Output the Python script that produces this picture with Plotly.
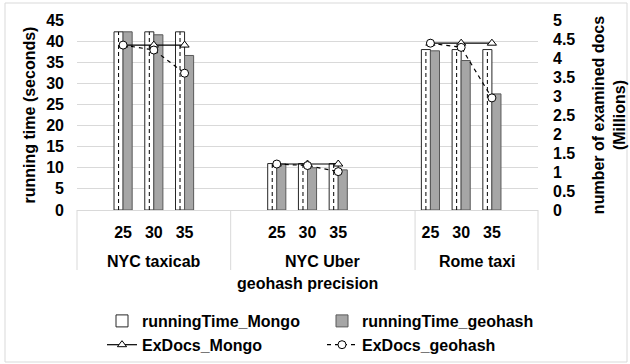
import plotly.graph_objects as go

# ---------------- data ----------------
groups = ["NYC taxicab", "NYC Uber", "Rome taxi"]
precisions = ["25", "30", "35"]
running_time_mongo = [[42.2, 42.2, 42.2], [11.0, 11.0, 11.0], [38.0, 38.0, 38.0]]
running_time_geohash = [[42.2, 41.5, 36.6], [10.9, 10.0, 9.5], [37.7, 35.4, 27.5]]
exdocs_mongo = [[4.34, 4.34, 4.34], [1.21, 1.21, 1.21], [4.39, 4.39, 4.39]]
exdocs_geohash = [[4.34, 4.21, 3.60], [1.21, 1.17, 1.01], [4.39, 4.28, 2.95]]
left_ticks = [0, 5, 10, 15, 20, 25, 30, 35, 40, 45]
right_ticks = [0, 0.5, 1, 1.5, 2, 2.5, 3, 3.5, 4, 4.5, 5]

# ---------------- layout of category slots ----------------
W, H = 630, 364
ML, MR, MT, MB = 77, 92, 20, 154
PW, PH = W - ML - MR, H - MT - MB
n_slots = 15
group_edges = [0, 5, 11, 15]
group_first_slot = [1, 6, 11]
BARGAP = 0.41
bar_w = (1 - BARGAP) / 2


def px_x(px):
    return (px - ML) / PW


def px_y(py):
    return (H - MB - py) / PH


xs_flat, mongo_flat, geo_flat = [], [], []
line_x, line_m, line_g = [], [], []
for gi, g in enumerate(groups):
    for i, p in enumerate(precisions):
        x = group_first_slot[gi] + i + 0.5
        xs_flat.append(x)
        mongo_flat.append(running_time_mongo[gi][i])
        geo_flat.append(running_time_geohash[gi][i])
        line_x.append(x)
        line_m.append(exdocs_mongo[gi][i])
        line_g.append(exdocs_geohash[gi][i])
    line_x.append(None)
    line_m.append(None)
    line_g.append(None)

FONT = "Liberation Sans, Arial, sans-serif"

fig = go.Figure()
fig.add_trace(go.Bar(
    x=xs_flat, y=mongo_flat, name="runningTime_Mongo", yaxis="y",
    marker=dict(color="white", line=dict(color="#262626", width=1)),
))
fig.add_trace(go.Bar(
    x=xs_flat, y=geo_flat, name="runningTime_geohash", yaxis="y",
    marker=dict(color="#a6a6a6", line=dict(color="#595959", width=1)),
))
# dashed inner line of the Mongo bars
dx, dy = [], []
for x, v in zip(xs_flat, mongo_flat):
    dx += [x - bar_w / 2, x - bar_w / 2, None]
    dy += [0, v, None]
fig.add_trace(go.Scatter(
    x=dx, y=dy, mode="lines", yaxis="y", showlegend=False, hoverinfo="skip",
    line=dict(color="black", width=1, dash="4px,3px"),
))
fig.add_trace(go.Scatter(
    x=line_x, y=line_m, name="ExDocs_Mongo", yaxis="y2", mode="lines+markers",
    line=dict(color="black", width=1.2),
    marker=dict(symbol="triangle-up", size=8, color="white", line=dict(color="black", width=1)),
))
fig.add_trace(go.Scatter(
    x=line_x, y=line_g, name="ExDocs_geohash", yaxis="y2", mode="lines+markers",
    line=dict(color="black", width=1.2, dash="4px,4px"),
    marker=dict(symbol="circle", size=8, color="white", line=dict(color="black", width=1)),
))

shapes = []
# outer chart border
shapes.append(dict(type="rect", xref="paper", yref="paper",
                   x0=px_x(5), x1=px_x(627), y0=px_y(362), y1=px_y(3),
                   line=dict(color="#d9d9d9", width=1), layer="below"))
# category separators below axis
for e in group_edges:
    shapes.append(dict(type="line", xref="paper", yref="paper",
                       x0=e / n_slots, x1=e / n_slots, y0=0, y1=px_y(270),
                       line=dict(color="#d9d9d9", width=1)))

annotations = []
for gi, g in enumerate(groups):
    mid = (group_edges[gi] + group_edges[gi + 1]) / 2 / n_slots
    annotations.append(dict(text=g, xref="paper", yref="paper", x=mid, y=px_y(261),
                            showarrow=False, xanchor="center", yanchor="middle",
                            font=dict(size=16, family=FONT, color="#000", weight="bold")))
annotations.append(dict(text="geohash precision", xref="paper", yref="paper", x=0.5, y=px_y(283),
                        showarrow=False, xanchor="center", yanchor="middle",
                        font=dict(size=16, family=FONT, color="#000", weight="bold")))

fig.update_layout(
    width=W, height=H,
    margin=dict(l=ML, r=MR, t=MT, b=MB, autoexpand=False),
    paper_bgcolor="white", plot_bgcolor="white",
    font=dict(family=FONT, size=15, color="#000", weight="bold"),
    barmode="group", bargap=BARGAP, bargroupgap=0,
    xaxis=dict(range=[0, n_slots], tickmode="array",
               tickvals=xs_flat, ticktext=precisions * len(groups),
               showgrid=False, zeroline=False, showline=True, linecolor="#d9d9d9",
               ticks="", ticklabelstandoff=8,
               tickfont=dict(size=16, family=FONT, weight="bold")),
    yaxis=dict(range=[0, 45], tickmode="array", tickvals=left_ticks,
               showgrid=True, gridcolor="#d9d9d9", gridwidth=1, zeroline=False,
               ticks="", ticklabelstandoff=12, automargin=False,
               tickfont=dict(size=16, family=FONT, weight="bold"),
               title=dict(text="running time (seconds)", standoff=6,
                          font=dict(size=16, family=FONT, weight="bold"))),
    yaxis2=dict(range=[0, 5], tickmode="array", tickvals=right_ticks,
                overlaying="y", side="right", showgrid=False, zeroline=False,
                ticks="", ticklabelstandoff=14, automargin=False,
                tickfont=dict(size=16, family=FONT, weight="bold"),
                title=dict(text="number of examined docs<br>(Millions)", standoff=18,
                           font=dict(size=16, family=FONT, weight="bold"))),
    legend=dict(orientation="h", x=px_x(102), xanchor="left", y=px_y(304), yanchor="top",
                entrywidth=175, entrywidthmode="pixels", traceorder="normal",
                font=dict(size=16, family=FONT, color="#000", weight="bold"),
                bgcolor="rgba(0,0,0,0)"),
    shapes=shapes, annotations=annotations,
    showlegend=True,
)

fig.write_html("out.html")
